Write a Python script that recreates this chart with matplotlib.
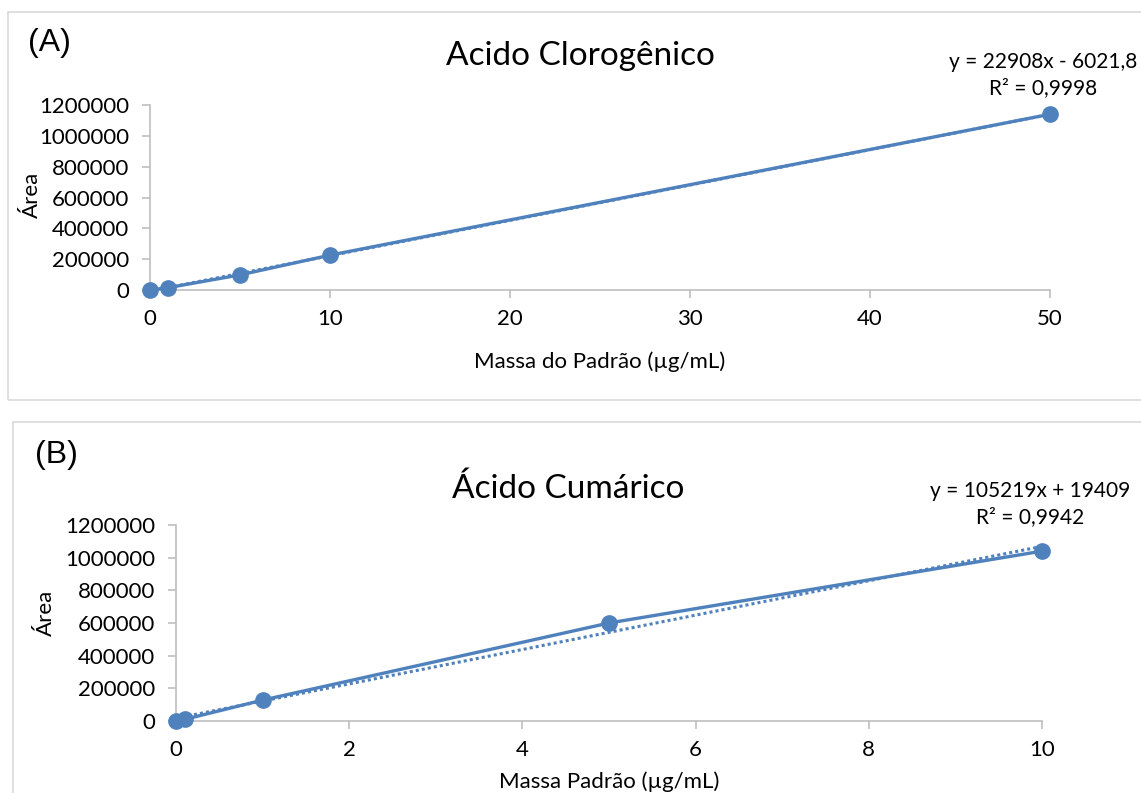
import numpy as np
import matplotlib
matplotlib.use('Agg')
import matplotlib.pyplot as plt
from matplotlib.patches import Rectangle
from matplotlib.ticker import FuncFormatter

# dados
massa_a = [0, 1, 5, 10, 50]
area_a = [0, 15000, 98000, 226000, 1140000]
massa_b = [0, 0.1, 1, 5, 10]
area_b = [0, 10000, 128000, 600000, 1040000]

yticks = [0, 200000, 400000, 600000, 800000, 1000000, 1200000]
xticks_a = [0, 10, 20, 30, 40, 50]
xticks_b = [0, 2, 4, 6, 8, 10]

W, H = 1141, 793
azul = '#4f81bd'
cinza = '#bfbfbf'
plt.rcParams['font.family'] = ['Lato', 'DejaVu Sans']

fig = plt.figure(figsize=(W / 100, H / 100), dpi=100)


def px(x, y):
    return x / W, 1 - y / H


def painel(rect, x, y, xticks, xmax, titulo, xlabel, eq, letra, caixa, pos):
    fig.patches.append(Rectangle(px(caixa[0], caixa[3]), (caixa[2] - caixa[0]) / W,
                                 (caixa[3] - caixa[1]) / H, transform=fig.transFigure,
                                 fill=False, edgecolor='#d9d9d9', lw=1.2))
    ax = fig.add_axes(rect)
    ax.plot(x, y, color=azul, lw=2.4, marker='o', ms=11, zorder=3, clip_on=False)
    a, b = np.polyfit(x, y, 1)
    xx = np.array([0, xmax])
    ax.plot(xx, a * xx + b, color=azul, lw=2.2, ls=(0, (1, 1)), zorder=2, clip_on=False)
    ax.set_xlim(0, xmax)
    ax.set_ylim(0, 1200000)
    ax.set_xticks(xticks)
    ax.set_yticks(yticks)
    ax.yaxis.set_major_formatter(FuncFormatter(lambda v, p: '%d' % v))
    for s in ['top', 'right']:
        ax.spines[s].set_visible(False)
    for s in ['left', 'bottom']:
        ax.spines[s].set_color(cinza)
        ax.spines[s].set_linewidth(1.2)
    ax.tick_params(colors=cinza, labelcolor='black', labelsize=16, length=6, width=1.2)
    ax.tick_params(axis='x', pad=8)
    ax.tick_params(axis='y', pad=9)
    ax.patch.set_alpha(0)
    fig.text(*px(*pos['titulo']), titulo, fontsize=24, ha='center', va='center')
    fig.text(*px(*pos['xlabel']), xlabel, fontsize=16, ha='center', va='center')
    fig.text(*px(*pos['ylabel']), 'Área', fontsize=16, ha='center', va='center', rotation=90)
    fig.text(*px(*pos['eq']), eq, fontsize=15, ha='center', va='center',
             multialignment='center', linespacing=1.4)
    fig.text(*px(*pos['letra']), letra, fontsize=23, ha='left', va='center',
             family='Liberation Sans')
    return ax


painel([150 / W, 1 - 290 / H, 900 / W, 185 / H], massa_a, area_a, xticks_a, 50,
       'Acido Clorogênico', 'Massa do Padrão (µg/mL)',
       'y = 22908x - 6021,8\nR² = 0,9998', '(A)', (8, 12, 1160, 400),
       {'titulo': (580, 56), 'xlabel': (600, 362), 'ylabel': (32, 195),
        'eq': (1043, 75), 'letra': (28, 43)})

painel([176 / W, 1 - 721 / H, 866 / W, 196 / H], massa_b, area_b, xticks_b, 10,
       'Ácido Cumárico', 'Massa Padrão (µg/mL)',
       'y = 105219x + 19409\nR² = 0,9942', '(B)', (13, 422, 1160, 820),
       {'titulo': (568, 489), 'xlabel': (609, 782), 'ylabel': (46, 613),
        'eq': (1030, 504), 'letra': (35, 455)})

plt.savefig('out.png', dpi=100)
